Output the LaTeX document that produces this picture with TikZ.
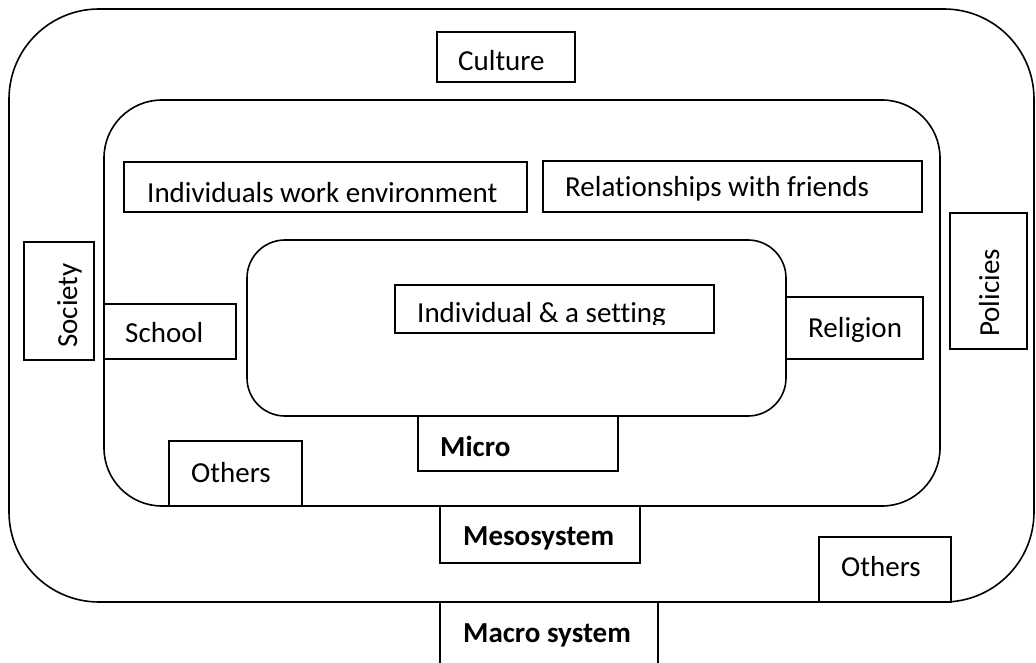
\documentclass[tikz,border=0pt]{standalone}
\usepackage{fontspec}
\setmainfont{Carlito}[Ligatures={NoCommon,NoRequired,NoContextual}]
\begin{document}
\begin{tikzpicture}[x=1pt,y=-1pt,
  frame/.style={line width=1.6pt},
  boxline/.style={line width=1.6pt, fill=white},
  lbl/.style={inner sep=0pt, anchor=base west, font=\fontsize{29}{34}\selectfont},
  blbl/.style={lbl, font=\fontsize{29}{34}\selectfont\bfseries}]
\useasboundingbox (0,0) rectangle (1036,663);

% three nested systems
\draw[frame, rounded corners=90pt] (9,9) rectangle (1034,602);
\draw[frame, rounded corners=58pt] (104,100) rectangle (940,506);
\draw[frame, rounded corners=38pt] (247,240) rectangle (786,416);

% outer ring labels
\draw[boxline] (437,32) rectangle (575,82);
\node[lbl] (culture) at (458,71) {Culture};

\draw[boxline] (24,242) rectangle (94,360);
\node[lbl, rotate=90] (society) at (77,348) {Society};

\draw[boxline] (950,213) rectangle (1027,349);
\node[lbl, rotate=90] (policies) at (999,337) {Policies};

\draw[boxline] (819,537) rectangle (951,602);
\node[lbl] (others2) at (841,576) {Others};

\draw[line width=1.6pt] (440,663) |- (658,602) -- (658,663);
\node[blbl] (macro) at (463,642) {Macro system};

% middle ring labels
\draw[boxline] (124,162) rectangle (527,212);
\node[lbl] (work) at (147,203) {Individuals work environment};

\draw[boxline] (543,161) rectangle (922,212);
\begin{scope}
  \clip (543,161) rectangle (922,203);
  \node[lbl] (friends) at (565,197) {Relationships with friends};
\end{scope}

\draw[boxline] (104,304) rectangle (236,359);
\node[lbl] (school) at (125,342) {School};

\draw[boxline] (786,297) rectangle (923,359);
\node[lbl] (religion) at (808,337) {Religion};

\draw[boxline] (169,441) rectangle (302,506);
\node[lbl] (others1) at (191,482) {Others};

\draw[boxline] (440,506) rectangle (640,563);
\node[blbl] (meso) at (463,545) {Mesosystem};

% inner system
\draw[boxline] (395,285) rectangle (714,333);
\begin{scope}
  \clip (395,285) rectangle (714,324);
  \node[lbl] (setting) at (417,322) {Individual \& a setting};
\end{scope}

\draw[boxline] (418,416) rectangle (618,471);
\node[blbl] (micro) at (440,456) {Micro};
\end{tikzpicture}
\end{document}
